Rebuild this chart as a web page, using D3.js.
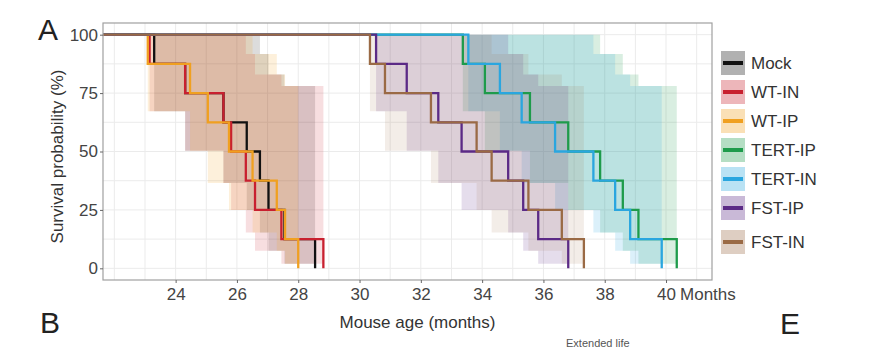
<!DOCTYPE html>
<html>
<head>
<meta charset="utf-8">
<script src="https://cdn.jsdelivr.net/npm/d3@7"></script>
<style>
  body { margin: 0; background: #fff; }
  text { font-family: "Liberation Sans", Arial, sans-serif; }
</style>
</head>
<body>
<script>
// groups in legend order
const groups = ["Mock", "WT-IN", "WT-IP", "TERT-IP", "TERT-IN", "FST-IP", "FST-IN"];
const lineColors = ["#111111", "#c8202f", "#f0a020", "#1e9b4b", "#2aa6df", "#5b2a86", "#9a6a45"];
const ribbonAlpha = [0.15, 0.15, 0.16, 0.17, 0.17, 0.16, 0.12];

// age at death (months), 8 mice per group
const mockDeaths   = [23.30, 24.31, 25.56, 26.32, 26.75, 27.03, 27.55, 28.55];
const wtInDeaths   = [23.15, 24.31, 25.56, 25.81, 26.29, 26.59, 27.45, 28.82];
const wtIpDeaths   = [23.09, 24.47, 25.05, 25.74, 26.51, 27.30, 27.57, 28.00];
const tertIpDeaths = [33.37, 34.09, 35.56, 36.81, 37.85, 38.59, 39.10, 40.35];
const tertInDeaths = [33.55, 34.58, 35.29, 36.38, 37.63, 38.34, 38.83, 39.86];
const fstIpDeaths  = [30.54, 31.54, 32.57, 33.33, 34.85, 35.34, 35.83, 36.81];
const fstInDeaths  = [30.34, 30.83, 32.33, 33.82, 34.31, 35.51, 36.60, 37.32];
const deathsByGroup = [mockDeaths, wtInDeaths, wtIpDeaths, tertIpDeaths, tertInDeaths, fstIpDeaths, fstInDeaths];

// survival level after k deaths and its confidence band
const survLevels = [100, 87.5, 75, 62.5, 50, 37.5, 25, 12.5, 0];
const ciUpper = [100, 100, 100, 100, 100, 91.7, 83.0, 78.0];
const ciLower = [100, 67.2, 50.3, 36.5, 25.0, 15.3, 7.5, 2.0];
const startAge = 0;

const xTicks = [24, 26, 28, 30, 32, 34, 36, 38, 40];
const yTicks = [0, 25, 50, 75, 100];
const xGrid = d3.range(22, 42, 1);
const yGrid = d3.range(0, 101, 12.5);

const width = 869, height = 350;
const panel = { left: 103, right: 712, top: 23, bottom: 280 };

const svg = d3.select("body").append("svg")
  .attr("width", width)
  .attr("height", height);

const x = d3.scaleLinear().domain([21.63, 41.5]).range([panel.left, panel.right]);
const y = d3.scaleLinear().domain([-5, 105]).range([panel.bottom, panel.top]);

svg.append("clipPath").attr("id", "clip")
  .append("rect")
  .attr("x", panel.left).attr("y", panel.top)
  .attr("width", panel.right - panel.left).attr("height", panel.bottom - panel.top);

// grid
const grid = svg.append("g");
grid.selectAll("line.v").data(xGrid).join("line")
  .attr("x1", d => x(d)).attr("x2", d => x(d))
  .attr("y1", panel.top).attr("y2", panel.bottom)
  .attr("stroke", "#ebebeb").attr("stroke-width", 1);
grid.selectAll("line.h").data(yGrid).join("line")
  .attr("y1", d => y(d)).attr("y2", d => y(d))
  .attr("x1", panel.left).attr("x2", panel.right)
  .attr("stroke", "#ebebeb").attr("stroke-width", 1);

const plot = svg.append("g").attr("clip-path", "url(#clip)");

// confidence ribbons
const area = d3.area()
  .x(d => x(d.t)).y0(d => y(d.lo)).y1(d => y(d.hi))
  .curve(d3.curveStepAfter);

deathsByGroup.forEach((deaths, gi) => {
  const pts = [];
  for (let k = 1; k < deaths.length; k++) {
    pts.push({ t: deaths[k - 1], hi: ciUpper[k], lo: ciLower[k] });
  }
  pts.push({ t: deaths[deaths.length - 1], hi: ciUpper[deaths.length - 1], lo: ciLower[deaths.length - 1] });
  plot.append("path")
    .attr("d", area(pts))
    .attr("fill", lineColors[gi])
    .attr("fill-opacity", ribbonAlpha[gi]);
});

// survival curves
const line = d3.line()
  .x(d => x(d.t)).y(d => y(d.s))
  .curve(d3.curveStepAfter);

deathsByGroup.forEach((deaths, gi) => {
  const pts = [{ t: startAge, s: survLevels[0] }];
  deaths.forEach((t, k) => pts.push({ t: t, s: survLevels[k + 1] }));
  plot.append("path")
    .attr("d", line(pts))
    .attr("fill", "none")
    .attr("stroke", lineColors[gi])
    .attr("stroke-width", 2.3);
});

// panel border
svg.append("rect")
  .attr("x", panel.left).attr("y", panel.top)
  .attr("width", panel.right - panel.left).attr("height", panel.bottom - panel.top)
  .attr("fill", "none").attr("stroke", "#a0a0a0").attr("stroke-width", 1.2);

// axes
const xAxis = svg.append("g")
  .attr("transform", `translate(0,${panel.bottom})`)
  .call(d3.axisBottom(x).tickValues(xTicks).tickSize(3).tickPadding(5).tickFormat(d3.format("d")));
const yAxis = svg.append("g")
  .attr("transform", `translate(${panel.left},0)`)
  .call(d3.axisLeft(y).tickValues(yTicks).tickSize(3).tickPadding(2).tickFormat(d3.format("d")));
[xAxis, yAxis].forEach(a => {
  a.select(".domain").remove();
  a.selectAll(".tick line").attr("stroke", "#666");
  a.selectAll(".tick text").attr("fill", "#444").attr("font-size", 17)
    .attr("font-family", "Liberation Sans, Arial, sans-serif");
});

// unit word sitting next to the last tick label
svg.append("text")
  .attr("x", x(40) + 14).attr("y", panel.bottom + 8).attr("dy", "0.71em")
  .attr("font-size", 17).attr("fill", "#444")
  .text("Months");

svg.append("text")
  .attr("x", (panel.left + panel.right) / 2 + 10).attr("y", 328)
  .attr("text-anchor", "middle").attr("font-size", 17).attr("fill", "#333")
  .text("Mouse age (months)");

svg.append("text")
  .attr("transform", `translate(63,${(panel.top + panel.bottom) / 2 + 5}) rotate(-90)`)
  .attr("text-anchor", "middle").attr("font-size", 17).attr("fill", "#333")
  .text("Survival probability (%)");

// panel letters and the caption below
svg.append("text").attr("x", 38).attr("y", 40).attr("font-size", 30).attr("fill", "#222").text("A");
svg.append("text").attr("x", 40).attr("y", 333).attr("font-size", 30).attr("fill", "#222").text("B");
svg.append("text").attr("x", 780).attr("y", 334).attr("font-size", 30).attr("fill", "#222").text("E");
svg.append("text").attr("x", 566).attr("y", 347).attr("font-size", 11).attr("fill", "#555").text("Extended life");

// legend
const legend = svg.append("g");
groups.forEach((g, i) => {
  const cy = 63 + i * 29 + (i === 6 ? 5 : 0);
  legend.append("rect")
    .attr("x", 721).attr("y", cy - 12).attr("width", 24).attr("height", 24)
    .attr("fill", lineColors[i]).attr("fill-opacity", 0.33);
  legend.append("line")
    .attr("x1", 723).attr("x2", 743).attr("y1", cy).attr("y2", cy)
    .attr("stroke", lineColors[i]).attr("stroke-width", 4);
  legend.append("text")
    .attr("x", 751).attr("y", cy + 6)
    .attr("font-size", 17).attr("fill", "#333")
    .text(g);
});
</script>
</body>
</html>
